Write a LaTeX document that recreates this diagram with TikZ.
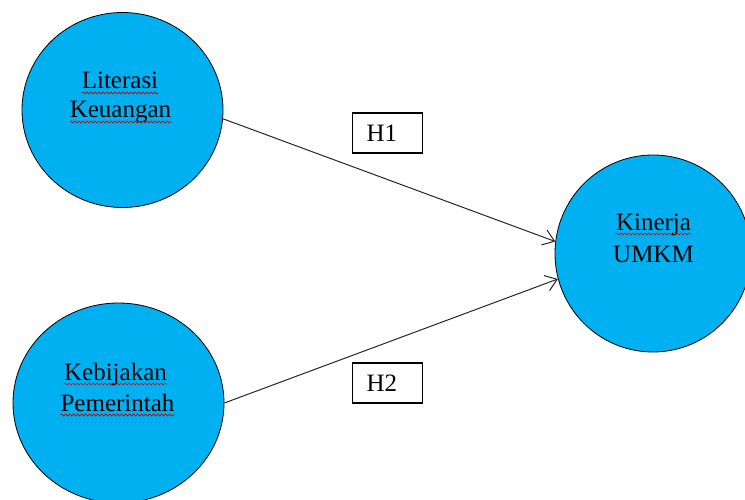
\documentclass[tikz,border=0pt]{standalone}
\usepackage{fontspec}
\setmainfont{Liberation Serif}
\usetikzlibrary{shapes.geometric,arrows.meta,decorations.pathmorphing}
\definecolor{varblue}{HTML}{00B0F0}
\begin{document}
\begin{tikzpicture}[x=1pt, y=-1pt, font=\fontsize{25}{30}\selectfont,
  var/.style={ellipse, draw, line width=0.8pt, fill=varblue, inner sep=0pt},
  lbl/.style={inner sep=0pt, anchor=base},
  hyp/.style={draw, line width=1.3pt, minimum height=40pt, text width=42pt, inner xsep=14pt, align=left},
  arr/.style={line width=1pt, draw=black!85, -{Straight Barb[length=11pt,width=16pt,line width=1pt]}},
  wavy/.style={red!80!black, line width=0.6pt, decorate, decoration={snake, amplitude=1pt, segment length=4pt}}]
  \useasboundingbox (0,0) rectangle (745,500);
  \clip (0,0) rectangle (745,500);
  \node[var, minimum width=201pt, minimum height=195pt] (lit) at (122.5,110) {};
  \node[var, minimum width=211pt, minimum height=200pt] (keb) at (118.5,403) {};
  \node[var, minimum width=196pt, minimum height=197pt] (kin) at (653,253.5) {};
  \node[lbl] (lit1) at (120,89)    {Literasi};
  \node[lbl] (lit2) at (120.5,118) {Keuangan};
  \node[lbl] (keb1) at (115.5,380) {Kebijakan};
  \node[lbl] (keb2) at (117.5,411) {Pemerintah};
  \node[lbl] (kin1) at (653.5,230) {Kinerja};
  \node[lbl] (kin2) at (653.5,262) {UMKM};
  % spell-check marks
  \foreach \w in {lit1,lit2,keb1,keb2,kin1}
    \draw[wavy] ([yshift=-4pt]\w.base west) -- ([yshift=-4pt]\w.base east);
  \node[hyp] (h1) at (387.5,133) {H1};
  \node[hyp] (h2) at (387.5,383) {H2};
  \draw[arr] (lit.-5) -- (kin.173);
  \draw[arr] (keb.east) -- (kin.195);
\end{tikzpicture}
\end{document}
